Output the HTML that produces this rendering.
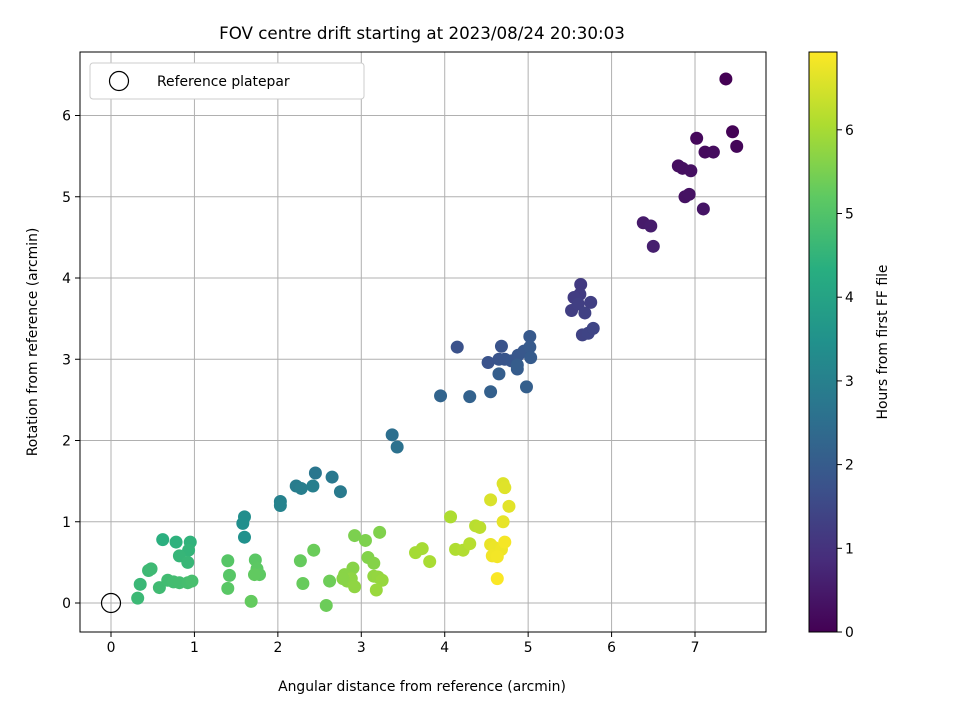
<!DOCTYPE html>
<html><head><meta charset="utf-8"><style>
body{margin:0;background:#fff}
svg text{font-family:"DejaVu Sans","Liberation Sans",sans-serif;fill:#000}
</style></head><body>
<svg id="chart" width="960" height="720">
<defs>
<linearGradient id="vir" x1="0" y1="1" x2="0" y2="0">
<stop offset="0" stop-color="#440154"/><stop offset="0.125" stop-color="#472d7b"/><stop offset="0.25" stop-color="#3b528b"/><stop offset="0.375" stop-color="#2c728e"/><stop offset="0.5" stop-color="#21918c"/><stop offset="0.625" stop-color="#28ae80"/><stop offset="0.75" stop-color="#5ec962"/><stop offset="0.875" stop-color="#addc30"/><stop offset="1" stop-color="#fde725"/>
</linearGradient>
</defs>
<text x="422" y="39" font-size="16.7" text-anchor="middle">FOV centre drift starting at 2023/08/24 20:30:03</text>
<g id="grid"></g><g id="ticks"></g><g id="pts"></g>
<rect x="80" y="52" width="686" height="580" fill="none" stroke="#000" stroke-width="1"/>
<text x="422" y="691" font-size="13.9" text-anchor="middle">Angular distance from reference (arcmin)</text>
<text transform="translate(37,342) rotate(-90)" font-size="13.9" text-anchor="middle">Rotation from reference (arcmin)</text>
<g>
<rect x="90" y="63" width="274" height="36" rx="3" fill="#fff" stroke="#ccc"/>
<circle cx="119" cy="81" r="9.5" fill="none" stroke="#000" stroke-width="1.2"/>
<text x="157" y="86" font-size="13.9">Reference platepar</text>
</g>
<rect x="809" y="52" width="28" height="580" fill="url(#vir)" stroke="#000" stroke-width="1"/>
<g id="cbticks"></g>
<text transform="translate(887,342) rotate(-90)" font-size="13.9" text-anchor="middle">Hours from first FF file</text>
</svg>
<script>
const xTicks=[0,1,2,3,4,5,6,7];
const yTicks=[0,1,2,3,4,5,6];
const cTicks=[0,1,2,3,4,5,6];
const xs=[7.37,7.45,7.5,7.02,7.12,7.22,6.8,6.85,6.95,6.88,6.93,7.1,6.38,6.47,6.5,
5.63,5.62,5.55,5.52,5.6,5.75,5.68,5.65,5.72,5.78,
4.15,4.68,4.52,4.65,4.72,4.8,4.88,4.95,5.02,5.02,5.03,4.87,4.87,4.65,4.98,4.55,4.3,3.95,
3.37,3.43,2.45,2.65,2.75,2.22,2.28,2.42,2.03,2.03,
1.6,1.58,1.6,
0.62,0.78,0.95,0.93,0.82,0.92,0.35,0.32,0.45,0.48,0.58,0.68,0.75,0.82,0.92,0.97,
1.4,1.42,1.4,1.73,1.75,1.78,1.72,1.68,2.27,2.3,2.43,2.58,2.62,
2.92,3.05,3.22,3.08,3.15,2.9,2.8,2.83,2.88,2.92,3.15,3.2,3.25,3.18,2.78,
3.65,3.73,3.82,4.07,4.13,4.22,4.3,4.37,4.42,
4.55,4.7,4.72,4.77,4.7,4.55,4.6,4.68,4.57,4.63,4.72,4.63];
const ys=[6.45,5.8,5.62,5.72,5.55,5.55,5.38,5.35,5.32,5.0,5.03,4.85,4.68,4.64,4.39,
3.92,3.8,3.76,3.6,3.68,3.7,3.57,3.3,3.32,3.38,
3.15,3.16,2.96,3.0,3.0,2.98,3.05,3.1,3.28,3.15,3.02,2.88,2.93,2.82,2.66,2.6,2.54,2.55,
2.07,1.92,1.6,1.55,1.37,1.44,1.41,1.44,1.25,1.2,
1.06,0.98,0.81,
0.78,0.75,0.75,0.65,0.58,0.5,0.23,0.06,0.4,0.42,0.19,0.28,0.26,0.25,0.25,0.27,
0.52,0.34,0.18,0.53,0.42,0.35,0.35,0.02,0.52,0.24,0.65,-0.03,0.27,
0.83,0.77,0.87,0.56,0.49,0.43,0.35,0.27,0.3,0.2,0.33,0.32,0.28,0.16,0.3,
0.62,0.67,0.51,1.06,0.66,0.65,0.73,0.95,0.93,
1.27,1.47,1.42,1.19,1.0,0.72,0.68,0.66,0.58,0.57,0.75,0.3];
const hrs=[0.0,0.05,0.1,0.15,0.2,0.22,0.25,0.28,0.3,0.32,0.35,0.38,0.5,0.55,0.6,
1.2,1.22,1.25,1.28,1.3,1.32,1.35,1.4,1.42,1.45,
1.75,1.78,1.8,1.82,1.85,1.88,1.9,1.92,1.95,1.97,2.0,2.02,2.05,2.08,2.1,2.15,2.2,2.25,
2.55,2.6,2.75,2.8,2.85,2.9,2.95,3.0,3.05,3.1,
3.4,3.45,3.5,
4.4,4.45,4.5,4.55,4.6,4.62,4.65,4.68,4.7,4.72,4.75,4.78,4.8,4.82,4.85,4.88,
5.1,5.12,5.15,5.18,5.2,5.22,5.25,5.28,5.3,5.32,5.35,5.38,5.4,
5.55,5.57,5.6,5.62,5.65,5.67,5.7,5.72,5.75,5.77,5.8,5.82,5.85,5.87,5.7,
6.0,6.02,6.05,6.1,6.12,6.15,6.2,6.22,6.25,
6.55,6.6,6.62,6.65,6.7,6.72,6.75,6.78,6.8,6.83,6.85,6.9];
const NS='http://www.w3.org/2000/svg';
const X=v=>111+(v)*83.43, Y=v=>603-v*81.25, C=v=>632-v*83.7;
const vir=[[68,1,84],[71,44,122],[59,81,139],[44,113,142],[33,144,140],[39,173,129],[92,200,99],[170,220,50],[253,231,37]];
function col(h){let t=Math.max(0,Math.min(1,h/6.93))*8,i=Math.min(7,Math.floor(t)),f=t-i;
return 'rgb('+[0,1,2].map(k=>Math.round(vir[i][k]+(vir[i+1][k]-vir[i][k])*f)).join(',')+')';}
function mk(tag,a,p){const e=document.createElementNS(NS,tag);for(const k in a)e.setAttribute(k,a[k]);document.getElementById(p).appendChild(e);return e;}
xTicks.forEach(v=>{
const l=mk('line',{x1:X(v),x2:X(v),y1:52,y2:632,stroke:'#b0b0b0','stroke-width':1},'grid');


mk('line',{x1:X(v),x2:X(v),y1:632,y2:637,stroke:'#000'},'ticks');
const t=mk('text',{x:X(v),y:652,'font-size':13.9,'text-anchor':'middle'},'ticks');t.textContent=v;


});
yTicks.forEach(v=>{
const l=mk('line',{x1:80,x2:766,y1:Y(v),y2:Y(v),stroke:'#b0b0b0','stroke-width':1},'grid');


mk('line',{x1:75,x2:80,y1:Y(v),y2:Y(v),stroke:'#000'},'ticks');
const t=mk('text',{x:71,y:Y(v)+5,'font-size':13.9,'text-anchor':'end'},'ticks');t.textContent=v;


});
cTicks.forEach(v=>{
mk('line',{x1:837,x2:842,y1:C(v),y2:C(v),stroke:'#000'},'cbticks');
const t=mk('text',{x:845,y:C(v)+5,'font-size':13.9},'cbticks');t.textContent=v;


});
xs.forEach((x,i)=>{
const c=mk('circle',{cx:X(x),cy:Y(ys[i]),r:6.5,fill:col(hrs[i])},'pts');


});
const r=mk('circle',{cx:X(0),cy:Y(0),r:9.5,fill:'none',stroke:'#000','stroke-width':1.2},'pts');


</script>
</body></html>
